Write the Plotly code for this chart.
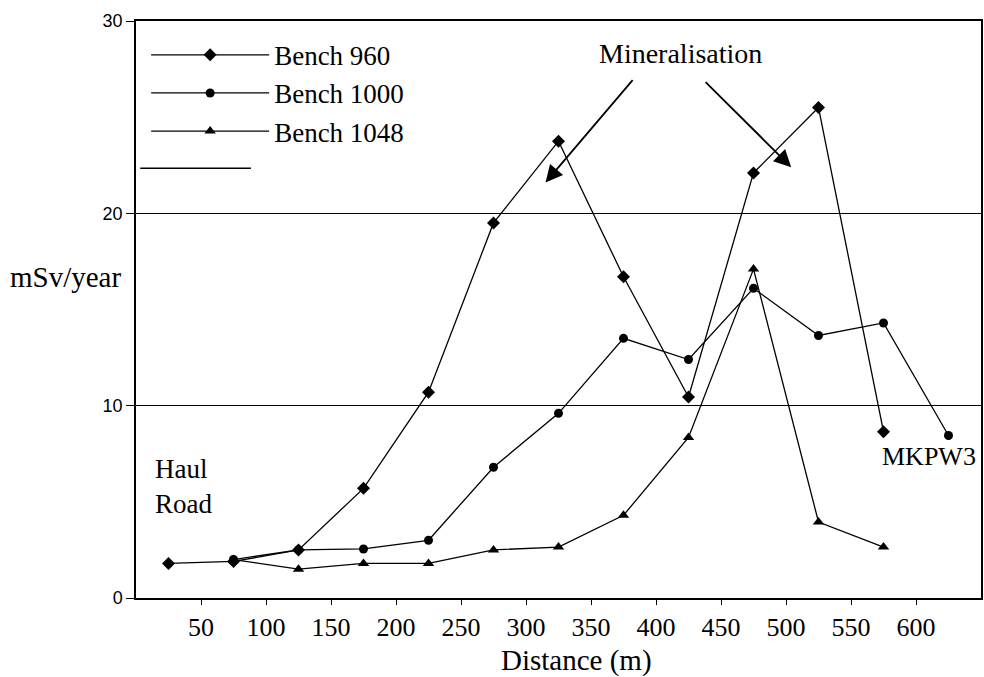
import plotly.graph_objects as go

# ---- data ----
dist_960 = [25, 75, 125, 175, 225, 275, 325, 375, 425, 475, 525, 575]
bench_960 = [1.8, 1.9, 2.5, 5.7, 10.7, 19.5, 23.75, 16.7, 10.45, 22.1, 25.5, 8.65]

dist_1000 = [75, 125, 175, 225, 275, 325, 375, 425, 475, 525, 575, 625]
bench_1000 = [2.0, 2.5, 2.55, 3.0, 6.8, 9.6, 13.5, 12.4, 16.1, 13.65, 14.3, 8.45]

dist_1048 = [75, 125, 175, 225, 275, 325, 375, 425, 475, 525, 575]
bench_1048 = [2.0, 1.5, 1.8, 1.8, 2.5, 2.65, 4.3, 8.35, 17.1, 3.95, 2.65]

x_ticks = [50, 100, 150, 200, 250, 300, 350, 400, 450, 500, 550, 600]
y_ticks = [0, 10, 20, 30]

SERIF = "Liberation Serif"
SANS = "Liberation Sans"

fig = go.Figure()
series = [
    ("Bench 960", dist_960, bench_960, "diamond", 10),
    ("Bench 1000", dist_1000, bench_1000, "circle", 9),
    ("Bench 1048", dist_1048, bench_1048, "triangle-up", 10),
]
for name, xs, ys, sym, sz in series:
    fig.add_trace(go.Scatter(
        x=xs, y=ys, name=name, mode="lines+markers",
        line=dict(color="black", width=1.3),
        marker=dict(symbol=sym, size=sz, color="black"),
    ))

arrow_common = dict(xref="x", yref="y", axref="x", ayref="y", text="",
                    showarrow=True, arrowhead=2, arrowsize=1.9,
                    arrowwidth=1.8, arrowcolor="black")

fig.update_layout(
    width=984, height=677,
    margin=dict(l=136, r=1, t=21, b=79),
    paper_bgcolor="white", plot_bgcolor="white",
    font=dict(family=SERIF, color="black"),
    showlegend=True,
    legend=dict(x=0.012, y=0.983, xanchor="left", yanchor="top",
                font=dict(family=SERIF, size=27, color="black"),
                bgcolor="rgba(0,0,0,0)", itemwidth=118),
    xaxis=dict(range=[0, 650], tickvals=x_ticks, ticks="outside", ticklen=5,
               tickcolor="black", showline=True, linecolor="black",
               linewidth=1.5, mirror=True, showgrid=False, zeroline=False,
               tickfont=dict(family=SERIF, size=26, color="black")),
    yaxis=dict(range=[0, 30], tickvals=y_ticks, ticks="outside", ticklen=8,
               tickcolor="black", showline=True, linecolor="black",
               linewidth=1.5, mirror=True, showgrid=True, gridcolor="black",
               gridwidth=1, zeroline=False,
               tickfont=dict(family=SANS, size=18, color="black")),
    annotations=[
        dict(x=339, y=-0.108, xref="x", yref="paper", text="Distance (m)",
             showarrow=False, font=dict(family=SERIF, size=29, color="black"),
             xanchor="center", yanchor="middle"),
        dict(x=-0.084, y=16.7, xref="paper", yref="y", text="mSv/year",
             showarrow=False, font=dict(family=SERIF, size=29, color="black"),
             xanchor="center", yanchor="middle"),
        dict(x=419, y=28.3, xref="x", yref="y", text="Mineralisation",
             showarrow=False, font=dict(family=SERIF, size=28, color="black"),
             xanchor="center", yanchor="middle"),
        dict(x=315, y=21.6, ax=383, ay=27.0, **arrow_common),
        dict(x=504, y=22.4, ax=437, ay=26.9, **arrow_common),
        dict(x=13, y=5.8, xref="x", yref="y", text="Haul<br>Road",
             showarrow=False, align="left",
             font=dict(family=SERIF, size=27, color="black"),
             xanchor="left", yanchor="middle"),
        dict(x=648, y=7.35, xref="x", yref="y", text="MKPW3",
             showarrow=False, font=dict(family=SERIF, size=26, color="black"),
             xanchor="right", yanchor="middle"),
    ],
    shapes=[
        dict(type="line", xref="paper", yref="paper", x0=0.005, x1=0.136,
             y0=0.745, y1=0.745, line=dict(color="black", width=1.5)),
    ],
)

fig.write_html("out.html")
